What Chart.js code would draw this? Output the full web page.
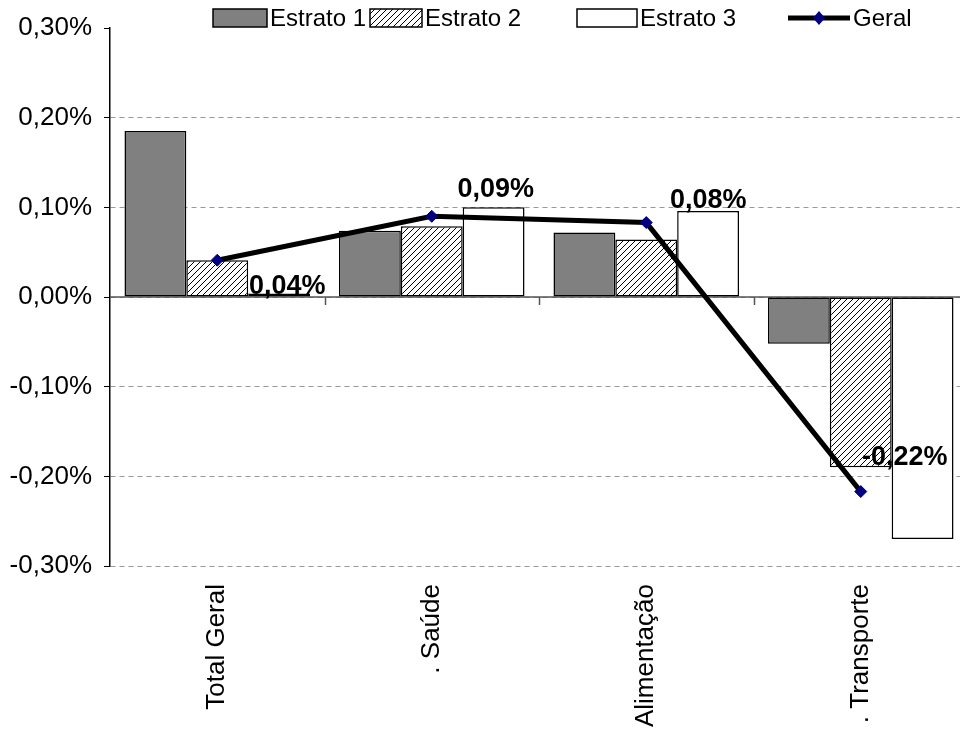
<!DOCTYPE html>
<html>
<head>
<meta charset="utf-8">
<script src="https://cdn.jsdelivr.net/npm/chart.js@4"></script>
<style>
  body { margin: 0; overflow: hidden; background: #fff; }
  #wrap { width: 980px; height: 736px; }
</style>
</head>
<body>
<div id="wrap"><canvas id="myChart"></canvas></div>
<script>
// data (percent)
const categories = ["Total Geral", ". Saúde", ". Alimentação", ". Transporte"];
const estrato1 = [0.185, 0.074, 0.072, -0.052];
const estrato2 = [0.041, 0.079, 0.064, -0.190];
const estrato3 = [0.004, 0.100, 0.096, -0.270];
const geral = [0.041, 0.090, 0.083, -0.217];
const yTicks = [-0.3, -0.2, -0.1, 0, 0.1, 0.2, 0.3];
const seriesNames = ["Estrato 1", "Estrato 2", "Estrato 3", "Geral"];

Chart.defaults.font.family = "'Liberation Sans', Arial, sans-serif";
Chart.defaults.color = "#000";

function fmtPct(v) {
    if (Math.abs(v) < 1e-9) v = 0;
    return v.toFixed(2).replace(".", ",") + "%";
}

function makeHatch(ctx) {
    let c = document.createElement("canvas");
    c.width = 6; c.height = 6;
    let g = c.getContext("2d");
    g.fillStyle = "#fff";
    g.fillRect(0, 0, 6, 6);
    g.strokeStyle = "#000";
    g.lineWidth = 1;
    g.beginPath();
    g.moveTo(0, 6); g.lineTo(6, 0);
    g.moveTo(-1, 1); g.lineTo(1, -1);
    g.moveTo(5, 7); g.lineTo(7, 5);
    g.stroke();
    return ctx.createPattern(c, "repeat");
}

let ctx = document.getElementById("myChart").getContext("2d");
let hatch = makeHatch(ctx);

// solid zero line + small category ticks on it
const zeroLine = {
    id: "zeroLine",
    beforeDatasetsDraw(chart) {
        let c = chart.ctx, x = chart.scales.x, y = chart.scales.y;
        let y0 = y.getPixelForValue(0);
        c.save();
        c.strokeStyle = "#555";
        c.lineWidth = 1.5;
        c.beginPath();
        c.moveTo(chart.chartArea.left, y0);
        c.lineTo(chart.chartArea.right, y0);
        let w = (x.right - x.left) / categories.length;
        for (let i = 1; i < categories.length; i++) {
            let px = Math.round(x.left + i * w) + 0.5;
            c.moveTo(px, y0);
            c.lineTo(px, y0 + 8);
        }
        c.stroke();
        c.restore();
    }
};

// value labels for the Geral line, dragged around as in the original
const lineLabels = {
    id: "lineLabels",
    afterDatasetsDraw(chart) {
        let offsets = [[70, 26], [64, -27], [62, -22], [44, -34]];
        let meta = chart.getDatasetMeta(0);
        let c = chart.ctx;
        c.save();
        c.font = "bold 27px 'Liberation Sans', Arial, sans-serif";
        c.fillStyle = "#000";
        c.textAlign = "center";
        c.textBaseline = "middle";
        meta.data.forEach(function (pt, i) {
            c.fillText(fmtPct(geral[i]), pt.x + offsets[i][0], pt.y + offsets[i][1]);
        });
        c.restore();
    }
};

// legend drawn over the top of the plot, like the original
const topLegend = {
    id: "topLegend",
    afterDraw(chart) {
        let c = chart.ctx;
        let boxes = [[213, 54], [370, 52], [577, 60], [788, 62]];
        let fills = ["#808080", hatch, "#fff"];
        c.save();
        c.font = "24px 'Liberation Sans', Arial, sans-serif";
        c.textBaseline = "middle";
        c.textAlign = "left";
        for (let i = 0; i < 4; i++) {
            let bx = boxes[i][0], bw = boxes[i][1];
            if (i < 3) {
                c.fillStyle = fills[i];
                c.fillRect(bx, 9, bw, 18);
                c.strokeStyle = "#000";
                c.lineWidth = 1.5;
                c.strokeRect(bx, 9, bw, 18);
            } else {
                c.strokeStyle = "#000";
                c.lineWidth = 5;
                c.beginPath();
                c.moveTo(bx, 18);
                c.lineTo(bx + bw, 18);
                c.stroke();
                c.fillStyle = "#000080";
                c.beginPath();
                let mx = bx + bw / 2;
                c.moveTo(mx, 11); c.lineTo(mx + 6, 18); c.lineTo(mx, 25); c.lineTo(mx - 6, 18);
                c.closePath();
                c.fill();
            }
            c.fillStyle = "#000";
            c.fillText(seriesNames[i], bx + bw + 3, 19);
        }
        c.restore();
    }
};

let myChart = new Chart(ctx, {
    data: {
        labels: categories,
        datasets: [
            {
                type: "line",
                label: seriesNames[3],
                data: geral,
                borderColor: "#000",
                borderWidth: 5,
                tension: 0,
                pointStyle: "rectRot",
                pointRadius: 6,
                pointBackgroundColor: "#000080",
                pointBorderColor: "#000080",
                pointBorderWidth: 1,
                order: 0
            },
            {
                type: "bar",
                label: seriesNames[0],
                data: estrato1,
                backgroundColor: "#808080",
                borderColor: "#000",
                borderWidth: 1.5,
                order: 1
            },
            {
                type: "bar",
                label: seriesNames[1],
                data: estrato2,
                backgroundColor: hatch,
                borderColor: "#000",
                borderWidth: 1.5,
                order: 1
            },
            {
                type: "bar",
                label: seriesNames[2],
                data: estrato3,
                backgroundColor: "#fff",
                borderColor: "#000",
                borderWidth: 1.5,
                order: 1
            }
        ]
    },
    options: {
        responsive: true,
        maintainAspectRatio: false,
        animation: false,
        datasets: {
            bar: { categoryPercentage: 0.865, barPercentage: 1, borderSkipped: false }
        },
        layout: { padding: { left: 0, right: 12, top: 28, bottom: 0 } },
        plugins: {
            legend: { display: false },
            tooltip: { enabled: false }
        },
        scales: {
            x: {
                grid: { display: false, drawTicks: false },
                border: { display: false },
                ticks: {
                    autoSkip: false,
                    minRotation: 90,
                    maxRotation: 90,
                    padding: 18,
                    font: { size: 26 }
                },
                afterFit(scale) { scale.height = 170; }
            },
            y: {
                min: -0.3,
                max: 0.3,
                afterBuildTicks(scale) {
                    scale.ticks = yTicks.map(function (v) { return { value: v }; });
                },
                grid: {
                    color(c) {
                        if (c.tick && Math.abs(c.tick.value - 0.3) < 1e-9) return "rgba(0,0,0,0)";
                        return "#999";
                    },
                    tickColor: "#000",
                    tickLength: 6,
                    tickBorderDash: []
                },
                border: { display: true, color: "#000", width: 1.5, dash: [5, 4] },
                ticks: {
                    padding: 12,
                    font: { size: 26 },
                    callback: function (v) { return fmtPct(v); }
                },
                afterFit(scale) { scale.width = 110; }
            }
        }
    },
    plugins: [zeroLine, lineLabels, topLegend]
});
</script>
</body>
</html>
